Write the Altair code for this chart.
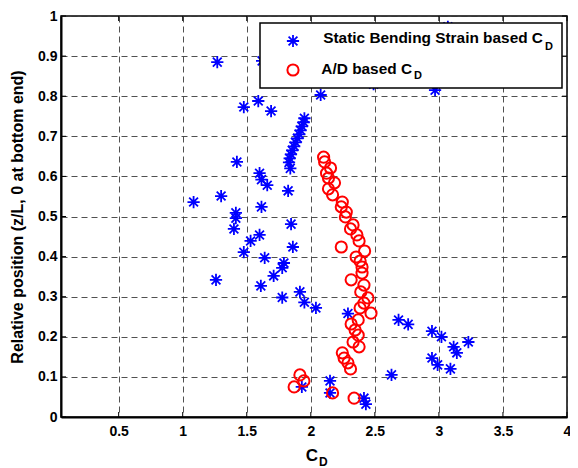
import altair as alt
import pandas as pd

# Static Bending Strain based C_D (blue asterisks)
star_x = [1.27, 1.62, 3.07, 2.49, 2.077, 2.97, 1.477, 1.59, 1.69,
          1.95, 1.945, 1.93, 1.92, 1.91, 1.895, 1.88, 1.87, 1.855, 1.845, 1.835, 1.83,
          1.84, 1.423, 1.60, 1.615, 1.66, 1.823, 1.085, 1.30, 1.615, 1.415, 1.415,
          1.40, 1.846, 1.60, 1.53, 1.477, 1.86, 1.64, 1.79, 1.777, 1.71, 1.26,
          1.61, 1.777, 1.915, 1.95, 2.04, 2.29, 2.685, 2.76, 2.946, 3.02, 3.115,
          3.14, 3.23, 2.946, 2.99, 3.09, 2.63, 2.15, 2.15, 1.93, 2.415, 2.43]
star_y = [0.885, 0.888, 0.973, 0.83, 0.803, 0.815, 0.773, 0.788, 0.763,
          0.745, 0.735, 0.725, 0.715, 0.705, 0.695, 0.685, 0.675, 0.665, 0.655, 0.645, 0.635,
          0.62, 0.636, 0.608, 0.592, 0.578, 0.564, 0.536, 0.551, 0.524, 0.509, 0.496,
          0.469, 0.481, 0.454, 0.439, 0.411, 0.424, 0.397, 0.384, 0.372, 0.352, 0.342,
          0.327, 0.298, 0.312, 0.286, 0.272, 0.258, 0.242, 0.231, 0.214, 0.20, 0.175,
          0.16, 0.187, 0.147, 0.13, 0.12, 0.105, 0.09, 0.06, 0.075, 0.047, 0.032]

# A/D based C_D (red circles)
circ_x = [2.10, 2.108, 2.154, 2.123, 2.138, 2.185, 2.138, 2.17, 2.246, 2.238,
          2.277, 2.27, 2.33, 2.31, 2.36, 2.377, 2.238, 2.42, 2.354, 2.385,
          2.40, 2.40, 2.315, 2.415, 2.39, 2.446, 2.415, 2.385, 2.47, 2.37,
          2.315, 2.346, 2.37, 2.33, 2.377, 2.246, 2.26, 2.29, 2.31, 1.915,
          1.946, 1.87, 2.17, 2.338]
circ_y = [0.648, 0.636, 0.621, 0.608, 0.596, 0.584, 0.569, 0.554, 0.536, 0.524,
          0.511, 0.499, 0.479, 0.469, 0.454, 0.439, 0.424, 0.414, 0.399, 0.389,
          0.374, 0.359, 0.342, 0.329, 0.312, 0.297, 0.284, 0.272, 0.259, 0.242,
          0.232, 0.217, 0.204, 0.187, 0.175, 0.16, 0.147, 0.135, 0.12, 0.105,
          0.09, 0.075, 0.06, 0.047]

x_ticks = [0.5, 1, 1.5, 2, 2.5, 3, 3.5, 4]
y_ticks = [0, 0.1, 0.2, 0.3, 0.4, 0.5, 0.6, 0.7, 0.8, 0.9, 1]

legend_labels = ["Static Bending Strain based C", "A/D based C"]
y_title = "Relative position (z/L, 0 at bottom end)"

W, H = 506, 401
FONT = "Liberation Sans"
STAR = "M-1,0L1,0M0,-1L0,1M-0.72,-0.72L0.72,0.72M-0.72,0.72L0.72,-0.72"

xs = alt.Scale(domain=[0.05, 4], nice=False, zero=False)
ys = alt.Scale(domain=[0, 1], nice=False, zero=False)

stars = pd.DataFrame({"x": star_x, "y": star_y})
circs = pd.DataFrame({"x": circ_x, "y": circ_y})
xt = pd.DataFrame({"x": x_ticks})
yt = pd.DataFrame({"y": y_ticks})
one = pd.DataFrame({"a": [0]})

x_axis = alt.Axis(values=x_ticks, title=None, grid=True, gridDash=[6, 4],
                  gridColor="#333", gridWidth=1, gridOpacity=0.85, tickSize=0,
                  labelPadding=7, labelFont=FONT, labelFontSize=14,
                  labelFontWeight="bold", labelColor="black", labelFlush=False,
                  domainColor="black", domainWidth=2, format="~g")
y_axis = alt.Axis(values=y_ticks, title=y_title, grid=True, gridDash=[6, 4],
                  gridColor="#333", gridWidth=1, gridOpacity=0.85, tickSize=0,
                  labelPadding=4, labelFont=FONT, labelFontSize=14,
                  labelFontWeight="bold", labelColor="black", labelFlush=False,
                  domainColor="black", domainWidth=2, format="~g",
                  titleFont=FONT, titleFontSize=16, titleFontWeight="bold",
                  titleColor="black", titlePadding=12)

X = alt.X("x:Q", scale=xs, axis=x_axis)
Y = alt.Y("y:Q", scale=ys, axis=y_axis)

pts_star = alt.Chart(stars).mark_point(shape=STAR, size=150, filled=False,
                                       stroke="#0000FF", strokeWidth=1.8, opacity=1).encode(x=X, y=Y)
pts_circ = alt.Chart(circs).mark_point(shape="circle", size=125, filled=False,
                                       stroke="#FF0000", strokeWidth=2, opacity=1).encode(x=X, y=Y)

tick_style = dict(color="black", strokeWidth=1)
top_t = alt.Chart(xt).mark_rule(**tick_style).encode(x=X, y=alt.value(0), y2=alt.value(5))
bot_t = alt.Chart(xt).mark_rule(**tick_style).encode(x=X, y=alt.value(H - 5), y2=alt.value(H))
left_t = alt.Chart(yt).mark_rule(**tick_style).encode(y=Y, x=alt.value(0), x2=alt.value(5))
right_t = alt.Chart(yt).mark_rule(**tick_style).encode(y=Y, x=alt.value(W - 5), x2=alt.value(W))

# legend box
leg_box = alt.Chart(one).mark_rect(fill="white", stroke="black", strokeWidth=1.5).encode(
    x=alt.value(199), x2=alt.value(501), y=alt.value(7), y2=alt.value(72))
leg_star = alt.Chart(one).mark_point(shape=STAR, size=150, filled=False,
                                     stroke="#0000FF", strokeWidth=1.8, opacity=1).encode(
    x=alt.value(232), y=alt.value(25))
leg_circ = alt.Chart(one).mark_point(shape="circle", size=125, filled=False,
                                     stroke="#FF0000", strokeWidth=2, opacity=1).encode(
    x=alt.value(232), y=alt.value(54))

def txt(s, x, y, size, align="right"):
    return alt.Chart(one).mark_text(text=s, font=FONT, fontSize=size, fontWeight="bold",
                                    color="black", align=align, baseline="alphabetic").encode(
        x=alt.value(x), y=alt.value(y))

leg_t1 = txt(legend_labels[0], 482, 27, 15.4)
leg_d1 = txt("D", 484, 34, 11, "left")
leg_t2 = txt(legend_labels[1], 351, 58, 15.4)
leg_d2 = txt("D", 353, 63, 11, "left")

xt_c = txt("C", 257, 445, 17)
xt_d = txt("D", 258, 450, 12, "left")

chart = alt.layer(
    pts_star, pts_circ, top_t, bot_t, left_t, right_t,
    leg_box, leg_star, leg_circ, leg_t1, leg_d1, leg_t2, leg_d2, xt_c, xt_d
).properties(
    width=W, height=H,
    autosize="none",
    padding={"left": 53, "top": 8, "right": 3, "bottom": 51},
).configure_view(stroke="black", strokeWidth=1.5)

chart.save("out.html", embed_options={"renderer": "svg", "actions": False})
